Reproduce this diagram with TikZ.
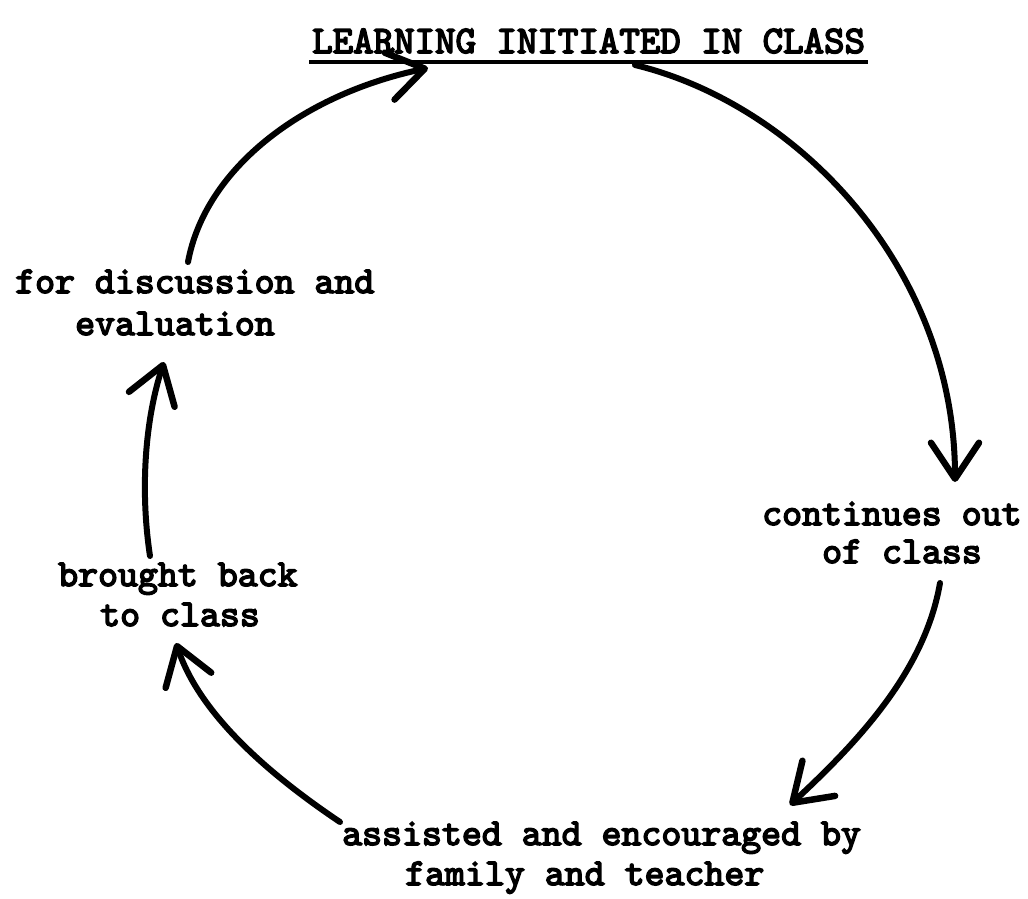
\documentclass[tikz,border=0pt]{standalone}
\usepackage{fontspec}
\usetikzlibrary{arrows.meta}
\newfontfamily\tw{lmmono10-regular.otf}[FakeBold=4]
\begin{document}
\begin{tikzpicture}[x=1pt,y=-1pt,
  lbl/.style={anchor=base west,inner sep=0pt,font=\tw\fontsize{38}{40}\selectfont},
  cyc/.style={line width=6pt,line cap=round,
    -{Straight Barb[length=36pt,width=48pt,line width=6.5pt,round]}}]
\useasboundingbox (0,0) rectangle (1028,898);
\node[lbl,font=\tw\fontsize{39}{40}\selectfont] (title) at (312,53) {LEARNING INITIATED IN CLASS};
\draw[line width=4.5pt] (309,62) -- (868,62);
\node[lbl] (disc1) at (15,293) {for discussion and};
\node[lbl] (disc2) at (75,335) {evaluation};
\node[lbl] (cont1) at (762,525) {continues out};
\node[lbl] (cont2) at (822,563) {of class};
\node[lbl] (back1) at (58,586) {brought back};
\node[lbl] (back2) at (100,626) {to class};
\node[lbl] (assi1) at (342,845) {assisted and encouraged by};
\node[lbl] (assi2) at (405,885) {family and teacher};
% connector end points
\coordinate (t1) at (635,65);
\coordinate (c1) at (955,482);
\coordinate (c2) at (940,583);
\coordinate (a1) at (790,805);
\coordinate (a2) at (340,822);
\coordinate (b1) at (176,643);
\coordinate (b2) at (150,556);
\coordinate (d1) at (164,362);
\coordinate (d2) at (188,262);
\coordinate (t2) at (428,68);
\draw[cyc] (t1) .. controls (800,105) and (955,270) .. (c1);
\draw[cyc] (c2) .. controls (925,670) and (860,740) .. (a1);
\draw[cyc] (a2) .. controls (270,775) and (200,715) .. (b1);
\draw[cyc] (b2) .. controls (140,490) and (145,420) .. (d1);
\draw[cyc] (d2) .. controls (205,170) and (300,95) .. (t2);
\end{tikzpicture}
\end{document}
